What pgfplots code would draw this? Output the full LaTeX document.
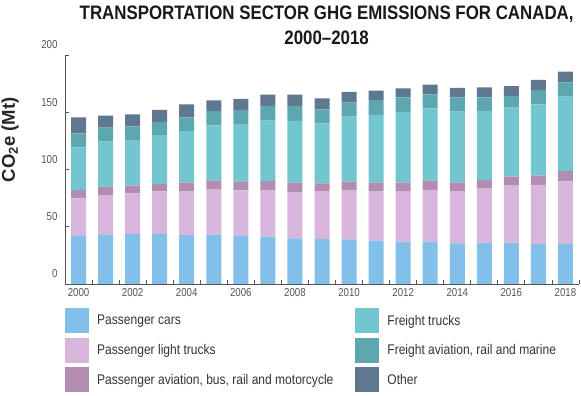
\documentclass[border=0pt]{standalone}
\usepackage{fontspec}
\setmainfont{Liberation Sans}
\newfontfamily\cond[FakeStretch=0.84]{Liberation Sans}
\newfontfamily\lcond[FakeStretch=0.86]{Liberation Sans}
\newfontfamily\tcond[FakeStretch=0.865]{Liberation Sans}
\usepackage{pgfplots}
\pgfplotsset{compat=1.18}
\usepackage{pgfplotstable}
\definecolor{cCars}{HTML}{82BFE9}
\definecolor{cLT}{HTML}{D8B5DA}
\definecolor{cPA}{HTML}{B28DAF}
\definecolor{cFT}{HTML}{72C6D0}
\definecolor{cFA}{HTML}{5EA7AF}
\definecolor{cOth}{HTML}{5F7890}
\definecolor{axgray}{HTML}{555555}
\pgfplotstableread{
year cars lt pa ft fa oth
2000 41.9 32.9 7.3 37.3 12.2 14.0
2001 42.8 34.9 7.3 39.3 12.2 10.5
2002 43.7 35.5 6.7 39.9 11.9 10.5
2003 43.7 37.2 6.4 42.8 11.4 10.5
2004 42.8 38.4 7.3 45.1 12.0 11.3
2005 43.1 39.3 7.8 48.4 12.5 9.3
2006 41.9 39.9 7.9 50.0 12.3 9.6
2007 41.3 40.8 7.9 52.6 12.9 9.9
2008 39.9 40.4 8.2 53.9 13.1 9.9
2009 39.3 41.9 6.7 52.4 12.2 9.7
2010 39.0 43.1 7.3 56.7 12.3 9.3
2011 37.8 43.4 7.3 59.1 13.1 8.2
2012 37.0 43.6 7.9 61.7 12.8 7.9
2013 37.0 45.1 8.1 63.2 12.2 8.5
2014 35.5 45.7 7.6 61.7 12.5 8.2
2015 36.1 47.2 7.5 60.3 11.9 8.8
2016 36.1 49.8 7.8 60.3 10.2 8.7
2017 34.9 51.6 8.1 62.3 12.5 8.8
2018 34.9 54.8 9.0 64.9 12.5 9.3
}\data
\begin{document}
\begin{tikzpicture}
\useasboundingbox (0,0) rectangle (581pt,396pt);
\begin{axis}[
  at={(65pt,112pt)}, anchor=south west,
  scale only axis, width=514pt, height=229pt,
  ybar stacked, bar width=15pt,
  xmin=1999.5, xmax=2018.5, ymin=0, ymax=200,
  axis lines*=left,
  axis line style={axgray, line width=0.8pt},
  tick align=inside, major tick length=4pt,
  tick style={axgray, line width=0.8pt},
  xtick={2000.5,2001.5,2002.5,2003.5,2004.5,2005.5,2006.5,2007.5,2008.5,2009.5,2010.5,2011.5,2012.5,2013.5,2014.5,2015.5,2016.5,2017.5,2018.5},
  xticklabels={2000,,2002,,2004,,2006,,2008,,2010,,2012,,2014,,2016,,2018,},
  xticklabel style={xshift=-13.53pt, yshift=-1pt, font=\cond\fontsize{11.5}{12}\selectfont, text=axgray},
  ytick={0,50,100,150,200},
  yticklabel style={xshift=-4pt, yshift=10pt, font=\cond\fontsize{11.5}{12}\selectfont, text=axgray},
  /pgf/number format/assume math mode=true,
  ylabel={CO\textsubscript{2}e (Mt)},
  ylabel style={at={(axis description cs:-0.107,0.629)}, anchor=center, font=\bfseries\fontsize{18.5}{20}\selectfont, text=black!85},
  every axis title shift=0pt,
  title={TRANSPORTATION SECTOR GHG EMISSIONS FOR CANADA,\\2000–2018},
  title style={at={(axis description cs:0.509,1.232)}, anchor=north, align=center, font=\tcond\bfseries\fontsize{19.5}{25}\selectfont, text=black!90},
  legend columns=3, transpose legend,
  legend image code/.code={\fill[#1,draw=none] (0pt,-12.5pt) rectangle (24pt,12.5pt);},
  legend style={at={(axis description cs:0,-0.105)}, anchor=north west, draw=none, fill=none, inner sep=0pt,
    font=\lcond\fontsize{14}{16}\selectfont, text=black!80, row sep=4.5pt,
    /tikz/every odd column/.append style={column sep=6pt},
    /tikz/every even column/.append style={column sep=20pt}},
  legend cell align=left,
]
\addplot[fill=cCars, draw=none] table[x=year,y=cars]{\data};
\addplot[fill=cLT, draw=none] table[x=year,y=lt]{\data};
\addplot[fill=cPA, draw=none] table[x=year,y=pa]{\data};
\addplot[fill=cFT, draw=none] table[x=year,y=ft]{\data};
\addplot[fill=cFA, draw=none] table[x=year,y=fa]{\data};
\addplot[fill=cOth, draw=none] table[x=year,y=oth]{\data};
\legend{Passenger cars, Passenger light trucks, {Passenger aviation, bus, rail and motorcycle}, Freight trucks, {Freight aviation, rail and marine}, Other}
\end{axis}
\end{tikzpicture}
\end{document}
